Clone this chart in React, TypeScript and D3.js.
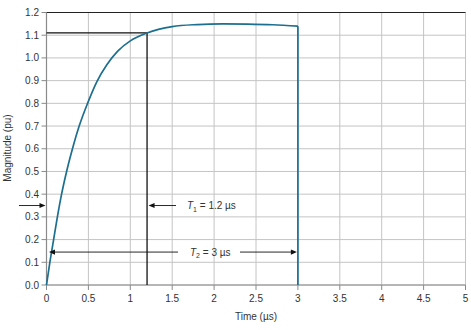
import React from "react";
import * as d3 from "d3";

const timeUs = [0, 0.04, 0.085, 0.13, 0.18, 0.24, 0.31, 0.39, 0.49, 0.6, 0.72, 0.85, 1.0, 1.2, 1.5, 1.8, 2.1, 2.4, 2.7, 3.0];
const magnitude = [0, 0.1, 0.2, 0.3, 0.4, 0.5, 0.6, 0.7, 0.8, 0.895, 0.97, 1.03, 1.075, 1.11, 1.138, 1.147, 1.15, 1.149, 1.146, 1.14];
const xTicks = [0, 0.5, 1, 1.5, 2, 2.5, 3, 3.5, 4, 4.5, 5];
const xTickLabels = ["0", "0.5", "1", "1.5", "2", "2.5", "3", "3.5", "4", "4.5", "5"];
const yTicks = [0, 0.1, 0.2, 0.3, 0.4, 0.5, 0.6, 0.7, 0.8, 0.9, 1.0, 1.1, 1.2];
const yTickLabels = ["0.0", "0.1", "0.2", "0.3", "0.4", "0.5", "0.6", "0.7", "0.8", "0.9", "1.0", "1.1", "1.2"];
const t1 = 1.2;
const t1Mag = 1.11;
const t2 = 3;
const arrowRow1 = 0.35;
const arrowRow2 = 0.145;

export default function App() {
  const W = 471, H = 330;
  const x = d3.scaleLinear().domain([0, 5]).range([46.5, 465.5]);
  const y = d3.scaleLinear().domain([0, 1.2]).range([285, 12.5]);
  const pts = timeUs.map((t, i) => [t, magnitude[i]] as [number, number]);
  const line = d3.line<[number, number]>().x(d => x(d[0])).y(d => y(d[1])).curve(d3.curveMonotoneX);
  const curvePath = line(pts) || "";
  const dropPath = `M${x(t2)},${y(magnitude[magnitude.length - 1])}L${x(t2)},${y(0)}`;
  const font = "Liberation Sans, Arial, Helvetica, sans-serif";
  const txt = "#333";
  const grid = "#c4c4c4";
  const axis = "#8a8a8a";
  const r1 = y(arrowRow1);
  const r2 = y(arrowRow2);
  const arrowHead = (tipX: number, tipY: number, dir: number) => {
    const l = 6, w = 2.6;
    return `M${tipX},${tipY}L${tipX - dir * l},${tipY - w}L${tipX - dir * l},${tipY + w}Z`;
  };
  return (
    <svg width={W} height={H} style={{ position: "absolute", left: 0, top: 0, background: "#fff" }} fontFamily={font}>
      {/* grid */}
      {xTicks.map(t => (
        <line key={"gx" + t} x1={x(t)} x2={x(t)} y1={y(0)} y2={y(1.2)} stroke={grid} strokeWidth={1} />
      ))}
      {yTicks.map(t => (
        <line key={"gy" + t} x1={x(0)} x2={x(5)} y1={y(t)} y2={y(t)} stroke={grid} strokeWidth={1} />
      ))}
      {/* axes */}
      <line x1={x(0)} x2={x(5)} y1={y(0)} y2={y(0)} stroke={axis} strokeWidth={1.2} />
      <line x1={x(0)} x2={x(0)} y1={y(0)} y2={y(1.2)} stroke={axis} strokeWidth={1.2} />
      <line x1={x(0)} x2={x(5)} y1={y(1.2)} y2={y(1.2)} stroke="#222" strokeWidth={1.2} />
      {xTicks.map((t, i) => (
        <g key={"xt" + t}>
          <line x1={x(t)} x2={x(t)} y1={y(0)} y2={y(0) + 5} stroke={axis} strokeWidth={1} />
          <text x={x(t)} y={302} textAnchor="middle" fontSize={10} fill={txt}>{xTickLabels[i]}</text>
        </g>
      ))}
      {yTicks.map((t, i) => (
        <g key={"yt" + t}>
          <line x1={x(0) - 5} x2={x(0)} y1={y(t)} y2={y(t)} stroke={axis} strokeWidth={1} />
          <text x={39} y={y(t) + 3.5} textAnchor="end" fontSize={10} fill={txt}>{yTickLabels[i]}</text>
        </g>
      ))}
      {/* annotation lines */}
      <line x1={x(0)} x2={x(t1)} y1={y(t1Mag)} y2={y(t1Mag)} stroke="#111" strokeWidth={1.3} />
      <line x1={x(t1)} x2={x(t1)} y1={y(0)} y2={y(t1Mag)} stroke="#111" strokeWidth={1.3} />
      {/* curve */}
      <path d={curvePath} fill="none" stroke="#1c6f8e" strokeWidth={1.7} />
      <path d={dropPath} fill="none" stroke="#1c6f8e" strokeWidth={1.7} />
      {/* arrows row 1 */}
      <line x1={19} x2={x(0) - 3} y1={r1} y2={r1} stroke="#111" strokeWidth={0.9} />
      <path d={arrowHead(x(0) - 1, r1, 1)} fill="#111" />
      <line x1={x(t1) + 3} x2={176} y1={r1} y2={r1} stroke="#111" strokeWidth={0.9} />
      <path d={arrowHead(x(t1) + 1.5, r1, -1)} fill="#111" />
      <text x={187} y={r1 + 3.5} fontSize={10} fill={txt}>
        <tspan fontStyle="italic">T</tspan>
        <tspan fontSize={7} dy={2.5}>1</tspan>
        <tspan dy={-2.5}> = 1.2 µs</tspan>
      </text>
      {/* arrows row 2 */}
      <line x1={52} x2={178} y1={r2} y2={r2} stroke="#111" strokeWidth={0.9} />
      <path d={arrowHead(49, r2, -1)} fill="#111" />
      <text x={190} y={r2 + 3.5} fontSize={10} fill={txt}>
        <tspan fontStyle="italic">T</tspan>
        <tspan fontSize={7} dy={2.5}>2</tspan>
        <tspan dy={-2.5}> = 3 µs</tspan>
      </text>
      <line x1={240} x2={x(t2) - 3} y1={r2} y2={r2} stroke="#111" strokeWidth={0.9} />
      <path d={arrowHead(x(t2) - 1, r2, 1)} fill="#111" />
      {/* axis titles */}
      <text x={256} y={320} textAnchor="middle" fontSize={10} fill={txt}>Time (µs)</text>
      <text transform={`translate(11,148) rotate(-90)`} textAnchor="middle" fontSize={10} fill={txt}>Magnitude (pu)</text>
    </svg>
  );
}
